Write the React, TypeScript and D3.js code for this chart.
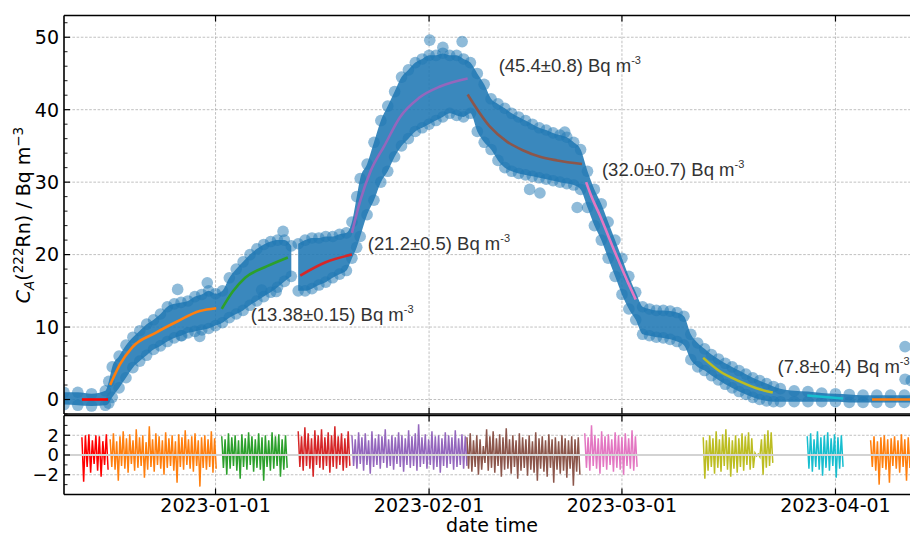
import { useEffect, useRef } from 'react';
import * as d3 from 'd3';

// time axis: day offsets counted from 2022-12-10
const START = Date.UTC(2022, 11, 10);
const END = Date.UTC(2023, 3, 13, 6, 30);
const DAY = 864e5;
const TICK_DATES = ['2023-01-01', '2023-02-01', '2023-03-01', '2023-04-01'];

// measured radon concentration, dense band (lower / upper edge of the point cloud)
const bandADays = [0, 2, 4, 6, 6.5, 7, 8, 9, 10, 11, 12, 13, 14, 15, 16, 17, 18, 19, 20, 21, 22, 23, 24, 25, 26, 27, 28, 29, 30, 31, 32, 33];
const bandAHi = [1.0, 1.0, 0.8, 1.2, 2.5, 4.5, 6.0, 7.5, 8.6, 9.5, 10.4, 11.0, 11.8, 12.8, 13.2, 13.4, 13.6, 14.2, 14.5, 15.0, 14.6, 15.0, 16.8, 18.0, 19.0, 20.0, 20.8, 21.4, 21.8, 22.0, 22.0, 21.2];
const bandALo = [-0.7, -0.8, -0.9, -0.8, -0.5, 0.3, 1.6, 3.0, 4.4, 5.3, 6.1, 6.9, 7.4, 8.0, 8.5, 8.8, 9.2, 9.4, 9.6, 9.8, 10.2, 10.6, 11.3, 11.8, 12.3, 13.0, 13.6, 14.2, 14.8, 15.5, 16.3, 17.0];

const bandBDays = [34, 35, 36, 37, 38, 39, 40, 41, 41.8, 42.5, 43, 44, 45, 46, 47, 48, 49, 50, 51, 52, 53, 54, 55, 56, 57, 58, 59, 60, 61, 62, 63, 64, 65, 66, 67, 68, 69, 70, 71, 72, 73, 74, 75, 76, 77, 78, 79, 80, 81, 82, 83, 84, 85, 86, 87, 88, 89, 90, 91, 92, 93, 94, 95, 96, 97, 98, 99, 100, 101, 102, 103, 104, 106, 108, 110, 112, 114, 116, 118, 120, 122, 124.3];
const bandBHi = [21.5, 22.0, 22.3, 22.3, 22.5, 22.5, 22.8, 23.0, 24.5, 28.0, 30.5, 32.5, 35.5, 38.5, 40.5, 42.5, 44.5, 45.5, 46.5, 47.0, 47.5, 47.5, 47.8, 47.5, 47.5, 47.0, 46.5, 45.0, 43.5, 41.5, 40.8, 40.2, 39.5, 39.0, 38.5, 38.0, 37.5, 37.2, 36.8, 36.5, 36.2, 35.5, 34.5, 31.5, 29.0, 27.0, 24.5, 22.0, 19.5, 17.0, 14.8, 12.8, 12.5, 12.3, 12.3, 12.2, 12.0, 11.5, 9.0, 7.8, 7.0, 6.2, 5.6, 5.0, 4.5, 4.0, 3.5, 3.0, 2.6, 2.2, 1.8, 1.5, 1.2, 1.1, 0.9, 0.8, 0.7, 0.6, 0.6, 0.6, 0.6, 0.6];
const bandBLo = [15.0, 15.0, 15.3, 15.8, 16.2, 16.8, 17.3, 17.8, 19.5, 21.0, 22.5, 25.5, 27.5, 30.0, 31.5, 33.5, 35.0, 36.0, 37.0, 37.5, 38.0, 38.5, 39.0, 39.5, 39.2, 39.0, 39.5, 37.0, 35.5, 34.5, 33.0, 32.0, 31.5, 31.2, 31.0, 30.8, 30.6, 30.4, 30.2, 30.0, 29.8, 29.6, 29.0, 26.5, 24.0, 22.0, 19.5, 17.0, 14.5, 12.5, 11.0, 9.0, 8.8, 8.6, 8.5, 8.3, 8.0, 7.5, 5.5, 4.5, 4.0, 3.3, 2.7, 2.1, 1.6, 1.1, 0.7, 0.3, 0.0, -0.2, -0.3, -0.3, -0.3, -0.3, -0.3, -0.3, -0.4, -0.4, -0.4, -0.4, -0.4, -0.4];

// isolated points off the band
const outlierDays = [16.5, 17.1, 19.7, 20.8, 28.7, 30.8, 31.8, 53.1, 55.0, 57.8, 67.6, 69.1, 72.7, 74.5, 122.1, 122.1, 123.0];
const outlierValues = [15.2, 8.8, 8.7, 16.1, 15.1, 14.9, 23.2, 49.6, 48.6, 49.4, 29.0, 28.5, 36.9, 26.5, 7.3, 2.8, 2.6];

// fitted curves [day, value]
const fit1 = [[2.6, 0], [6.4, 0]];
const fit2 = [[6.7, 2.0], [8.1, 4.8], [9.9, 7.2], [13.3, 9.2], [16.5, 10.8], [19.7, 12.2], [22.1, 12.6]];
const fit3 = [[22.9, 12.5], [24.5, 14.9], [26.3, 16.8], [29.5, 18.4], [32.5, 19.6]];
const fit4 = [[34.3, 17.1], [37.9, 18.9], [41.8, 20.0]];
const fit5 = [[41.8, 23.0], [43.0, 27.4], [44.5, 31.5], [46.5, 35.0], [48.8, 39.0], [51.5, 41.6], [54.6, 43.2], [58.6, 44.3]];
const fit6 = [[58.6, 42.1], [61.8, 37.7], [64.3, 35.6], [66.6, 34.4], [69.1, 33.5], [71.6, 33.0], [75.2, 32.5]];
const fit7 = [[75.8, 30.0], [76.5, 28.2], [77.8, 25.4], [80.0, 20.3], [81.9, 16.1], [83.0, 13.8]];
const fit8 = [[92.8, 5.75], [95.2, 3.9], [98.1, 2.5], [101.0, 1.4], [102.9, 0.97]];
const fit9 = [[107.9, 0.55], [113.1, 0.14]];
const fit10 = [[117.3, 0.0], [124.3, 0.0]];

const fitColors = ['#ff0000', '#ff7f0e', '#2ca02c', '#d62728', '#9467bd', '#8c564b', '#e377c2', '#bcbd22', '#17becf', '#ff7f0e'];

// residuals per fit segment, [first day, last day] and values
const resSpans = [[2.6, 6.4], [6.7, 22.1], [22.9, 32.4], [34.0, 41.5], [41.8, 58.5], [58.5, 74.9], [75.6, 83.2], [92.8, 102.9], [107.9, 113.1], [117.1, 124.3]];
const res1 = [1.8, -2.7, 2.0, -1.2, 2.1, -1.8, 1.5, -0.9, 2.0, -1.6, 1.9, -2.2, 1.4, -1.0, 2.1, -1.5];
const res2 = [1.6, -1.2, 2.2, -1.5, 1.4, -2.6, 1.9, -1.1, 2.4, -1.4, 1.7, -1.8, 2.1, -0.9, 1.5, -1.6, 2.6, -1.3, 1.8, -1.1, 2.0, -2.3, 1.3, -1.5, 2.9, -1.2, 1.6, -1.7, 2.2, -1.0, 1.9, -1.4, 1.5, -2.0, 2.3, -1.3, 1.7, -1.1, 2.0, -1.6, 1.4, -2.8, 2.1, -1.2, 1.8, -1.5, 2.5, -1.0, 1.6, -1.4, 1.9, -1.7, 2.2, -1.1, 1.5, -3.2, 1.8, -1.3, 2.0, -1.5, 1.6, -1.2, 2.4, -1.8, 1.7, -1.4];
const res3 = [1.9, -1.3, 1.6, -2.0, 2.2, -1.4, 1.8, -1.1, 2.0, -1.6, 1.5, -2.4, 2.1, -1.2, 1.7, -1.5, 2.3, -1.0, 1.9, -1.7, 1.6, -1.3, 2.2, -1.5, 1.8, -2.6, 2.0, -1.2, 1.5, -1.6, 2.3, -1.4, 1.9, -1.1, 2.1, -2.2, 1.6, -1.5, 2.0, -1.3];
const res4 = [2.4, -1.2, 1.9, -1.6, 2.8, -1.1, 2.2, -1.4, 1.7, -2.2, 2.5, -1.0, 2.0, -1.3, 2.6, -1.5, 1.8, -1.1, 2.3, -1.8, 2.0, -1.2, 2.9, -1.4, 1.9, -1.0, 2.2, -1.6, 1.7, -1.3, 2.4, -1.1];
const res5 = [2.0, -1.1, 1.6, -1.4, 2.3, -0.9, 1.8, -1.6, 2.2, -1.0, 1.5, -1.9, 2.4, -1.2, 1.7, -1.0, 2.1, -1.4, 1.9, -0.8, 2.6, -1.3, 1.6, -1.1, 2.0, -1.5, 1.8, -0.9, 2.3, -1.2, 2.0, -1.7, 1.7, -1.0, 2.5, -1.3, 1.9, -1.1, 2.2, -1.6, 3.1, -1.2, 1.8, -0.9, 2.1, -1.4, 1.6, -1.0, 2.4, -1.5, 1.9, -1.2, 2.0, -1.8, 1.7, -1.1, 2.3, -1.3, 2.0, -0.9, 1.8, -1.5, 2.5, -1.2, 1.7, -1.0, 2.1, -1.4, 1.9, -1.1];
const res6 = [1.8, -1.4, 2.2, -1.7, 1.5, -1.2, 2.0, -2.0, 1.6, -1.5, 0.9, -0.8, 2.6, -1.6, 1.9, -1.3, 2.4, -1.8, 1.7, -1.1, 2.1, -2.2, 1.8, -1.5, 2.7, -1.4, 1.6, -1.9, 2.0, -1.2, 1.5, -2.4, 2.2, -1.6, 1.8, -1.3, 1.6, -2.1, 2.0, -1.5, 1.4, -1.8, 2.3, -2.6, 1.7, -1.4, 1.9, -1.7, 1.5, -2.2, 2.1, -1.3, 1.6, -2.8, 1.8, -1.5, 1.4, -1.9, 2.0, -1.6, 1.7, -2.3, 1.5, -1.4, 1.9, -3.1, 1.6, -1.7, 1.8, -2.0];
const res7 = [2.2, -1.3, 1.8, -1.6, 3.0, -1.1, 2.0, -1.4, 1.7, -1.9, 2.4, -1.2, 1.9, -1.5, 2.1, -1.0, 1.6, -1.7, 2.3, -1.3, 2.0, -1.5, 1.8, -2.0, 2.2, -1.1, 1.7, -1.4, 2.5, -1.6, 1.9, -1.2];
const res8 = [1.8, -2.4, 1.5, -1.6, 2.0, -1.2, 1.7, -1.9, 2.4, -1.3, 1.6, -1.7, 2.1, -1.1, 2.6, -1.5, 1.8, -2.2, 1.5, -1.4, 2.0, -1.8, 1.7, -1.2, 2.2, -1.6, 1.9, -1.0, 2.3, -1.5, 1.7, -1.3, 0.2, -0.1, 0.1, -0.2, 1.6, -2.0, 2.1, -1.3, 2.5, -1.1, 2.3, -0.8];
const res9 = [1.9, -1.4, 2.2, -1.7, 1.6, -1.2, 2.4, -1.5, 1.8, -2.1, 2.0, -1.3, 2.3, -1.6, 1.7, -1.1, 2.1, -2.3, 1.8, -1.4, 2.0, -1.2];
const res10 = [1.5, -1.2, 1.9, -1.6, 1.4, -3.0, 1.8, -1.3, 2.0, -1.5, 1.6, -2.8, 1.7, -1.1, 1.9, -1.4, 1.5, -1.8, 2.1, -1.2, 1.6, -2.6, 1.8, -1.3, 1.4, -1.6, 2.0, -1.2, 1.7, -2.2];

// fitted equilibrium values, placed at [day, value]
const annoText = ['(13.38±0.15)', '(21.2±0.5)', '(45.4±0.8)', '(32.0±0.7)', '(7.8±0.4)'];
const annoDay = [27.1, 44.1, 63.1, 78.1, 103.6];
const annoValue = [10.9, 20.7, 45.2, 30.8, 3.7];

const FONT = '"DejaVu Sans", sans-serif';
const ANNO_FONT = '"Liberation Sans", Arial, sans-serif';

const toDate = (d: number) => new Date(START + d * DAY);

export default function App() {
  const svgRef = useRef<SVGSVGElement>(null);

  useEffect(() => {
    if (!svgRef.current) return;
    const svg = d3.select(svgRef.current);
    svg.selectAll('*').remove();

    const left = 64;
    const right = 920;
    const mainTop = 15.5;
    const mainBottom = 414;
    const resTop = 415.5;
    const resBottom = 494.5;

    const x = d3.scaleUtc().domain([new Date(START), new Date(END)]).range([left, right]);
    const y = d3.scaleLinear().domain([-2, 53]).range([mainBottom, mainTop]);
    const yr = d3.scaleLinear().domain([-4, 4]).range([resBottom, resTop]);
    const tickDates = TICK_DATES.map((s) => new Date(s + 'T00:00:00Z'));

    svg.append('rect').attr('width', 910).attr('height', 537).attr('fill', 'white');

    const defs = svg.append('defs');
    defs.append('clipPath').attr('id', 'clipMain').append('rect')
      .attr('x', left).attr('y', mainTop).attr('width', right - left).attr('height', mainBottom - mainTop);
    defs.append('clipPath').attr('id', 'clipRes').append('rect')
      .attr('x', left).attr('y', resTop).attr('width', right - left).attr('height', resBottom - resTop);

    // grids
    const grid = svg.append('g').attr('stroke', '#b0b0b0').attr('stroke-width', 0.8).attr('stroke-dasharray', '2.6,1.6');
    tickDates.forEach((d) => {
      grid.append('line').attr('x1', x(d)).attr('x2', x(d)).attr('y1', mainTop).attr('y2', mainBottom);
      grid.append('line').attr('x1', x(d)).attr('x2', x(d)).attr('y1', resTop).attr('y2', resBottom);
    });
    d3.range(0, 51, 10).forEach((v) => {
      grid.append('line').attr('x1', left).attr('x2', right).attr('y1', y(v)).attr('y2', y(v));
    });
    [-2, 2].forEach((v) => {
      grid.append('line').attr('x1', left).attr('x2', right).attr('y1', yr(v)).attr('y2', yr(v));
    });

    // data cloud: dense core plus semi-transparent markers along its edges
    const main = svg.append('g').attr('clip-path', 'url(#clipMain)');
    const bands = [
      { days: bandADays, lo: bandALo, hi: bandAHi },
      { days: bandBDays, lo: bandBLo, hi: bandBHi },
    ];
    bands.forEach((b) => {
      const idx = b.days.map((_, i) => i);
      const ar = d3.area<number>()
        .x((i) => x(toDate(b.days[i])))
        .y0((i) => y(b.lo[i]))
        .y1((i) => y(b.hi[i]))
        .curve(d3.curveMonotoneX);
      main.append('path').attr('d', ar(idx)).attr('fill', '#1f77b4').attr('fill-opacity', 0.88);
      idx.forEach((i) => {
        [b.lo[i], b.hi[i]].forEach((v) => {
          main.append('circle').attr('cx', x(toDate(b.days[i]))).attr('cy', y(v)).attr('r', 5.8)
            .attr('fill', '#1f77b4').attr('fill-opacity', 0.5);
        });
      });
    });
    outlierDays.forEach((d, i) => {
      main.append('circle').attr('cx', x(toDate(d))).attr('cy', y(outlierValues[i])).attr('r', 5.8)
        .attr('fill', '#1f77b4').attr('fill-opacity', 0.5);
    });

    // fits
    const fits = [fit1, fit2, fit3, fit4, fit5, fit6, fit7, fit8, fit9, fit10];
    const fitLine = d3.line<number[]>()
      .x((p) => x(toDate(p[0])))
      .y((p) => y(p[1]))
      .curve(d3.curveMonotoneX);
    fits.forEach((f, i) => {
      main.append('path').attr('d', fitLine(f)).attr('fill', 'none')
        .attr('stroke', fitColors[i]).attr('stroke-width', 2.6);
    });

    // residuals
    const resG = svg.append('g').attr('clip-path', 'url(#clipRes)');
    const residuals = [res1, res2, res3, res4, res5, res6, res7, res8, res9, res10];
    residuals.forEach((r, k) => {
      const [d0, d1] = resSpans[k];
      const line = d3.line<number>()
        .x((_, i) => x(toDate(d0 + ((d1 - d0) * i) / (r.length - 1))))
        .y((v) => yr(v));
      resG.append('path').attr('d', line(r)).attr('fill', 'none')
        .attr('stroke', fitColors[k]).attr('stroke-width', 1.5);
    });
    resG.append('line').attr('x1', left).attr('x2', right).attr('y1', yr(0)).attr('y2', yr(0))
      .attr('stroke', '#d3d3d3').attr('stroke-width', 2);

    // annotations
    annoText.forEach((t, i) => {
      const tx = svg.append('text')
        .attr('x', x(toDate(annoDay[i])))
        .attr('y', y(annoValue[i]))
        .attr('fill', '#333333')
        .style('font-family', ANNO_FONT)
        .style('font-size', '18.5px');
      tx.append('tspan').text(`${t} Bq m`);
      tx.append('tspan').attr('dy', -8).style('font-size', '11px').text('-3');
    });

    // spines and ticks
    const ax = svg.append('g').attr('stroke', 'black');
    const spine = (x1: number, y1: number, x2: number, y2: number) =>
      ax.append('line').attr('x1', x1).attr('y1', y1).attr('x2', x2).attr('y2', y2).attr('stroke-width', 1.6);
    spine(left, mainTop, right, mainTop);
    spine(left, mainBottom, right, mainBottom);
    spine(left, mainTop, left, mainBottom);
    spine(left, resTop, right, resTop);
    spine(left, resBottom, right, resBottom);
    spine(left, resTop, left, resBottom);

    const tick = (x1: number, y1: number, x2: number, y2: number, w = 1.2) =>
      ax.append('line').attr('x1', x1).attr('y1', y1).attr('x2', x2).attr('y2', y2).attr('stroke-width', w);
    tickDates.forEach((d) => {
      const px = x(d);
      tick(px, mainTop, px, mainTop + 6);
      tick(px, mainBottom, px, mainBottom - 6);
      tick(px, resTop, px, resTop + 6);
      tick(px, resBottom, px, resBottom - 6);
    });
    d3.range(-2, 53, 2).forEach((v) => {
      const major = v % 10 === 0;
      tick(left, y(v), left + (major ? 6 : 3.5), y(v), major ? 1.2 : 0.9);
    });
    d3.range(-3, 4, 1).forEach((v) => {
      const major = v % 2 === 0;
      tick(left, yr(v), left + (major ? 6 : 3.5), yr(v), major ? 1.2 : 0.9);
    });

    // tick labels
    const labels = svg.append('g').style('font-family', FONT).style('font-size', '19px').attr('fill', 'black');
    d3.range(0, 51, 10).forEach((v) => {
      labels.append('text').attr('x', 59).attr('y', y(v)).attr('dy', '0.36em')
        .attr('text-anchor', 'end').text(String(v));
    });
    [-2, 0, 2].forEach((v) => {
      labels.append('text').attr('x', 59).attr('y', yr(v)).attr('dy', '0.36em')
        .attr('text-anchor', 'end').style('font-size', '18px').text(String(v).replace('-', '−'));
    });
    const fmt = d3.utcFormat('%Y-%m-%d');
    tickDates.forEach((d) => {
      labels.append('text').attr('x', x(d)).attr('y', 512).attr('text-anchor', 'middle').text(fmt(d));
    });
    labels.append('text').attr('x', (left + right) / 2).attr('y', 532).attr('text-anchor', 'middle').text('date time');

    const yl = labels.append('text').attr('transform', 'translate(30,215) rotate(-90)').attr('text-anchor', 'middle');
    yl.append('tspan').style('font-style', 'italic').text('C');
    yl.append('tspan').attr('dy', 4).style('font-size', '13.5px').style('font-style', 'italic').text('A');
    yl.append('tspan').attr('dy', -4).text('(');
    yl.append('tspan').attr('dy', -7).style('font-size', '13.5px').text('222');
    yl.append('tspan').attr('dy', 7).text('Rn) / Bq m');
    yl.append('tspan').attr('dy', -7).style('font-size', '13.5px').text('−3');
  }, []);

  return (
    <svg
      ref={svgRef}
      width={910}
      height={537}
      style={{ position: 'absolute', left: 0, top: 0, display: 'block' }}
    />
  );
}
